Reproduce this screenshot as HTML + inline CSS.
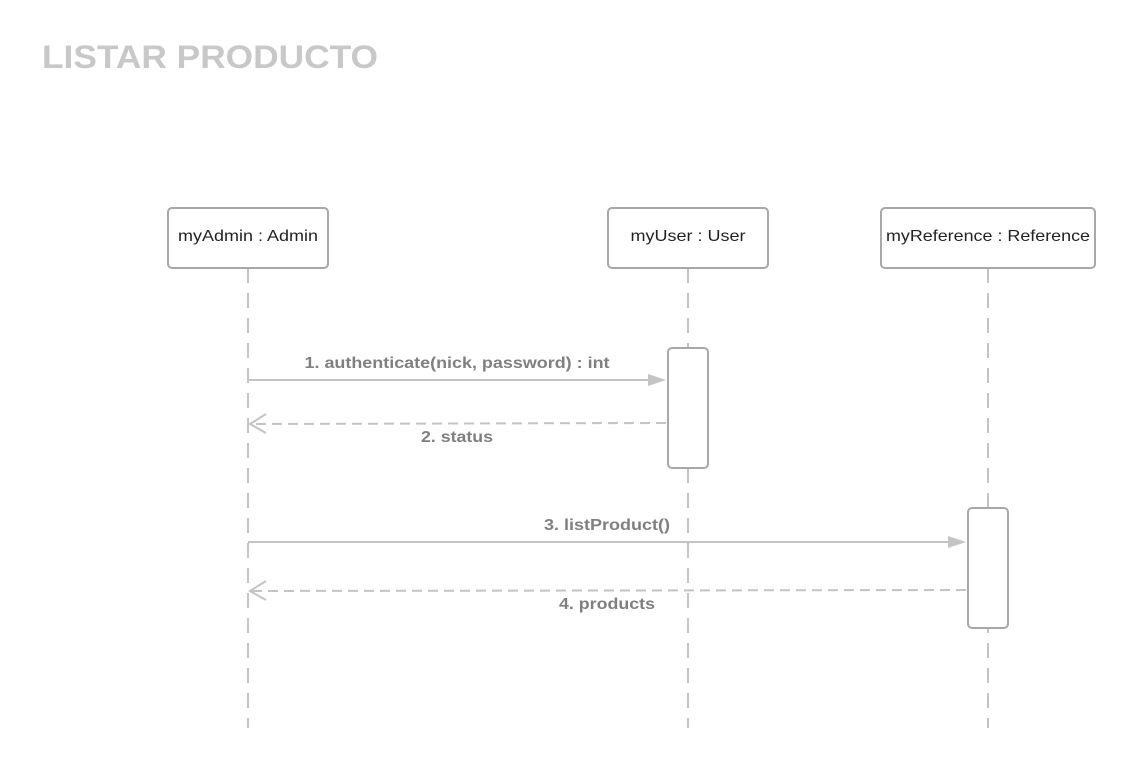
<!DOCTYPE html>
<html><head><style>
body{margin:0;background:#fff;}
svg text{font-family:"Liberation Sans",sans-serif;}
</style></head><body>
<svg width="1136" height="768" xmlns="http://www.w3.org/2000/svg">
<rect width="1136" height="768" fill="#fff"/>
<text x="42" y="68" font-size="32" font-weight="bold" fill="#c8c8c8" textLength="336" lengthAdjust="spacingAndGlyphs">LISTAR PRODUCTO</text>
<g stroke="#c4c4c4" stroke-width="2" stroke-dasharray="15 10" fill="none">
<line x1="248" y1="268" x2="248" y2="728"/>
<line x1="688" y1="268" x2="688" y2="728"/>
<line x1="988" y1="268" x2="988" y2="728"/>
</g>
<g fill="#fff" stroke="#a8a8a8" stroke-width="2">
<rect x="168" y="208" width="160" height="60" rx="4"/>
<rect x="608" y="208" width="160" height="60" rx="4"/>
<rect x="881" y="208" width="214" height="60" rx="4"/>
<rect x="668" y="348" width="40" height="120" rx="4"/>
<rect x="968" y="508" width="40" height="120" rx="4"/>
</g>
<g font-size="16" fill="#222" text-anchor="middle" lengthAdjust="spacingAndGlyphs">
<text x="248" y="241" textLength="140" lengthAdjust="spacingAndGlyphs">myAdmin : Admin</text>
<text x="688" y="241" textLength="115" lengthAdjust="spacingAndGlyphs">myUser : User</text>
<text x="988" y="241" textLength="204" lengthAdjust="spacingAndGlyphs">myReference : Reference</text>
</g>
<g stroke="#c4c4c4" stroke-width="2" fill="none">
<line x1="248" y1="380" x2="650" y2="380"/>
<line x1="248" y1="542" x2="950" y2="542"/>
<line x1="666" y1="423" x2="252" y2="424" stroke-dasharray="10 6"/>
<line x1="966" y1="590" x2="252" y2="591" stroke-dasharray="10 6"/>
<polyline points="266,414 250,424 266,433"/>
<polyline points="266,581 250,591 266,600"/>
</g>
<g fill="#c4c4c4">
<polygon points="648,374 666,380 648,386"/>
<polygon points="948,536 966,542 948,548"/>
</g>
<g font-size="16" font-weight="bold" fill="#808080" text-anchor="middle">
<text x="457" y="368" textLength="305" lengthAdjust="spacingAndGlyphs">1. authenticate(nick, password) : int</text>
<text x="457" y="442" textLength="72" lengthAdjust="spacingAndGlyphs">2. status</text>
<text x="607" y="530" textLength="126" lengthAdjust="spacingAndGlyphs">3. listProduct()</text>
<text x="607" y="609" textLength="96" lengthAdjust="spacingAndGlyphs">4. products</text>
</g>
</svg>
</body></html>
